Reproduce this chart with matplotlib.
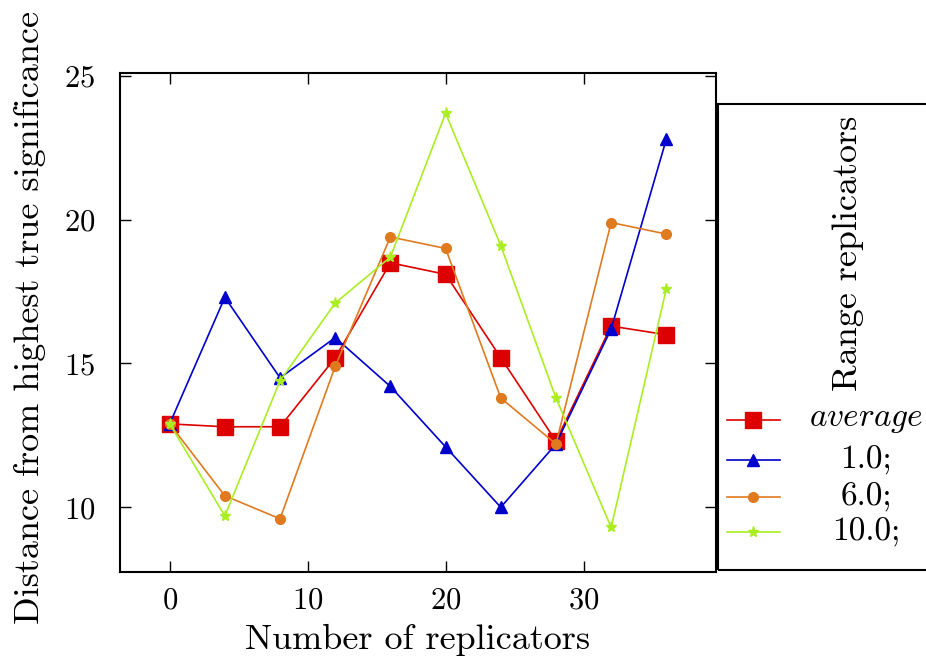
import matplotlib
matplotlib.use('Agg')
import matplotlib.pyplot as plt
from matplotlib.lines import Line2D
from matplotlib.patches import Rectangle

# data
replicators = [0, 4, 8, 12, 16, 20, 24, 28, 32, 36]
avg = [12.9, 12.8, 12.8, 15.2, 18.5, 18.1, 15.2, 12.3, 16.3, 16.0]
r1 = [12.9, 17.3, 14.5, 15.9, 14.2, 12.1, 10.0, 12.2, 16.2, 22.8]
r6 = [12.9, 10.4, 9.6, 14.9, 19.4, 19.0, 13.8, 12.2, 19.9, 19.5]
r10 = [12.9, 9.7, 14.4, 17.1, 18.7, 23.7, 19.1, 13.8, 9.3, 17.6]
labels = [r'$average$', '1.0;', '6.0;', '10.0;']

plt.rcParams['font.family'] = 'serif'
plt.rcParams['font.serif'] = ['cmr10', 'DejaVu Serif']
plt.rcParams['mathtext.fontset'] = 'cm'
plt.rcParams['axes.formatter.use_mathtext'] = True

fig = plt.figure(figsize=(9.26, 6.65), dpi=100)
ax = fig.add_axes([120 / 926, 93 / 665, 596 / 926, 499 / 665])

styles = [
    (avg, '#dd0000', 's', 11),
    (r1, '#0000cc', '^', 8),
    (r6, '#e07a1f', 'o', 7),
    (r10, '#aaee22', '*', 8),
]
for vals, col, mk, ms in styles:
    ax.plot(replicators, vals, color=col, marker=mk, markersize=ms,
            markeredgecolor=col, linewidth=1.2)

ax.set_xlim(-3.6, 39.6)
ax.set_ylim(7.75, 25.1)
ax.set_xticks([0, 10, 20, 30])
ax.set_yticks([10, 15, 20, 25])
ax.tick_params(direction='in', top=True, right=True, length=8, width=1,
               labelsize=22)
ax.tick_params(axis='y', pad=18)
ax.tick_params(axis='x', pad=11)
for s in ax.spines.values():
    s.set_linewidth(1.5)
ax.set_xlabel('Number of replicators', fontsize=26, va='center')
ax.set_ylabel('Distance from highest true significance', fontsize=26,
              va='center')
ax.xaxis.set_label_coords(0.5, -0.136)
ax.yaxis.set_label_coords(-0.151, 0.51)

# legend box sticking out on the right
fig.add_artist(Rectangle((718 / 926, 95 / 665), 0.3, 466 / 665,
                         transform=fig.transFigure, fill=False,
                         linewidth=1.5, edgecolor='black', clip_on=False))
fig.text(848 / 926, 412 / 665, 'Range replicators', rotation=90,
         ha='center', va='center', fontsize=26)
rows = [245, 205, 168, 133]
for (vals, col, mk, ms), lab, y in zip(styles, labels, rows):
    yy = y / 665
    fig.add_artist(Line2D([727 / 926, 780 / 926], [yy, yy],
                          transform=fig.transFigure, color=col,
                          linewidth=1.2))
    fig.add_artist(Line2D([753 / 926], [yy], transform=fig.transFigure,
                          color=col, marker=mk, markersize=ms,
                          markeredgecolor=col))
    fig.text(866 / 926, yy, lab, ha='center', va='center', fontsize=24)

fig.savefig('out.png', dpi=100)
